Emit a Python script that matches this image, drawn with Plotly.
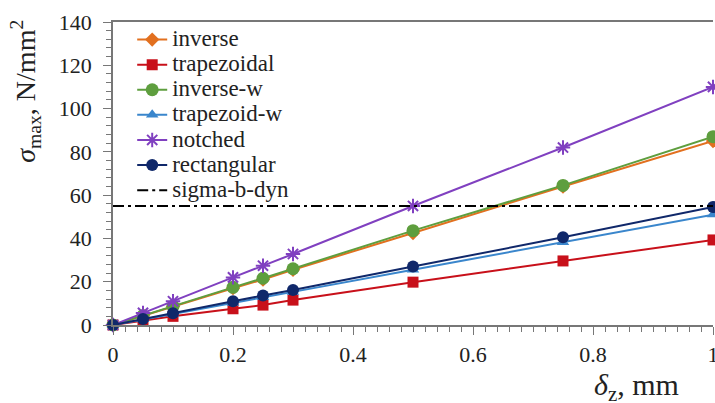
import plotly.graph_objects as go

x_vals = [0, 0.05, 0.1, 0.2, 0.25, 0.3, 0.5, 0.75, 1.0]

inverse = [0, 4.3, 8.5, 17.0, 21.0, 25.5, 42.5, 64.0, 85.0]
trapezoidal = [0, 2.0, 4.0, 7.5, 9.2, 11.5, 19.8, 29.6, 39.3]
inverse_w = [0, 4.4, 8.7, 17.4, 21.6, 26.0, 43.6, 64.5, 87.0]
trapezoid_w = [0, 2.6, 5.1, 10.2, 12.8, 15.3, 25.5, 38.2, 51.0]
notched = [0, 5.6, 11.0, 22.0, 27.4, 32.8, 55.0, 82.0, 110.0]
rectangular = [0, 2.8, 5.4, 11.0, 13.6, 16.2, 27.0, 40.5, 54.5]
sigma_b_dyn = [55, 55]
sigma_x = [0, 1.0]

series = [
    ("inverse", inverse, "#E2701F", "diamond", 11),
    ("trapezoidal", trapezoidal, "#C8101A", "square", 11),
    ("inverse-w", inverse_w, "#5E9E3E", "circle", 13),
    ("trapezoid-w", trapezoid_w, "#3A86CC", "triangle-up", 11),
    ("notched", notched, "#8040C0", "asterisk-open", 12),
    ("rectangular", rectangular, "#10286A", "circle", 12),
]

FONT = "Liberation Serif"


def leg(name):
    return "<span style='font-size:23px'>" + name + "</span>"


fig = go.Figure()
for name, ys, color, sym, size in series:
    marker = dict(symbol=sym, size=size, color=color)
    if sym == "asterisk-open":
        marker["line"] = dict(color=color, width=2)
    fig.add_trace(go.Scatter(
        x=x_vals, y=ys, name=leg(name), mode="lines+markers",
        line=dict(color=color, width=2), marker=marker, cliponaxis=False))

fig.add_trace(go.Scatter(
    x=sigma_x, y=sigma_b_dyn, name=leg("sigma-b-dyn"), mode="lines",
    line=dict(color="black", width=2, dash="11px,4px,3px,4px")))

fig.update_layout(
    width=715, height=403,
    margin=dict(l=113, r=2, t=22, b=78),
    plot_bgcolor="white", paper_bgcolor="white",
    font=dict(family=FONT, size=22, color="#222"),
    showlegend=True,
    legend=dict(x=0.032, y=1.0, xanchor="left", yanchor="top",
                bgcolor="rgba(255,255,255,0)", font=dict(size=17, family=FONT),
                tracegroupgap=0, itemwidth=30),
    xaxis=dict(range=[0, 1.0], tickvals=[0, 0.2, 0.4, 0.6, 0.8, 1.0],
               ticktext=["0", "0.2", "0.4", "0.6", "0.8", "1"], automargin=False,
               ticklabeloverflow="allow",
               showgrid=False, zeroline=False, showline=True, linecolor="#777",
               linewidth=1.5, mirror=True, ticks="outside", ticklen=8, tickcolor="#777",
               ticklabelstandoff=1,
               minor=dict(dtick=0.02, ticks="outside", ticklen=5, tickcolor="#777")),
    yaxis=dict(range=[0, 140], dtick=20, showgrid=False, zeroline=False, automargin=False,
               showline=True, linecolor="#777", linewidth=1.5,
               ticks="outside", ticklen=8, tickcolor="#777", ticklabelstandoff=7,
               minor=dict(dtick=4, ticks="outside", ticklen=5, tickcolor="#777")),
    annotations=[
        dict(text="<i>σ</i><sub>max</sub>, N/mm<sup>2</sup>", textangle=-90,
             xref="paper", yref="paper", x=-0.145, y=0.77, showarrow=False,
             font=dict(size=28, family=FONT, color="#222"),
             xanchor="center", yanchor="middle"),
        dict(text="<i>δ</i><sub>z</sub>, mm",
             xref="paper", yref="paper", x=0.872, y=-0.205, showarrow=False,
             font=dict(size=30, family=FONT, color="#222"),
             xanchor="center", yanchor="middle"),
    ],
)

fig.write_html("out.html", config={"displayModeBar": False},
               post_script="document.body.style.margin='0';document.body.style.overflow='hidden';")
